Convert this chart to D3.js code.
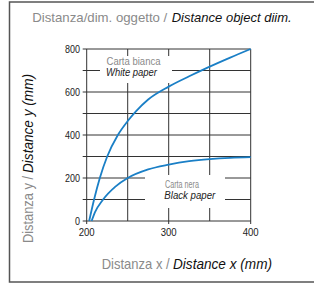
<!DOCTYPE html>
<html>
<head>
<meta charset="utf-8">
<script src="https://cdn.jsdelivr.net/npm/d3@7"></script>
<style>
  body { margin: 0; background: #fff; }
  svg { display: block; }
  text { font-family: "Liberation Sans", Arial, sans-serif; }
</style>
</head>
<body>
<script>
// data
const whitePaperX = [203, 209, 216, 225, 238, 250, 260, 275, 300, 325, 350, 375, 400];
const whitePaperY = [0, 100, 200, 300, 400, 465, 510, 565, 625, 673, 718, 760, 800];
const blackPaperX = [206, 210, 220, 235, 250, 275, 300, 325, 350, 375, 400];
const blackPaperY = [0, 40, 100, 160, 200, 240, 262, 278, 288, 294, 297];
const xTickLabels = [200, 300, 400];
const yTickLabels = [0, 200, 400, 600, 800];
const xGrid = [200, 250, 300, 350, 400];
const yGrid = [0, 100, 200, 300, 400, 500, 600, 700, 800];

const W = 314, H = 283;
const svg = d3.select("body").append("svg")
    .attr("width", W)
    .attr("height", H);

// outer frame
svg.append("rect")
    .attr("x", 9.5).attr("y", 2)
    .attr("width", 320).attr("height", 280)
    .attr("fill", "none")
    .attr("stroke", "#555")
    .attr("stroke-width", 1.5);

let x = d3.scaleLinear().domain([200, 400]).range([86.7, 250.7]);
let y = d3.scaleLinear().domain([0, 800]).range([221, 49]);

const grid = svg.append("g").attr("stroke", "#333").attr("stroke-width", 1);

grid.selectAll(".vgrid")
    .data(xGrid)
    .enter()
    .append("line")
    .attr("x1", d => x(d)).attr("x2", d => x(d))
    .attr("y1", y(800)).attr("y2", d => xTickLabels.includes(d) ? y(0) + 3 : y(0));

grid.selectAll(".hgrid")
    .data(yGrid)
    .enter()
    .append("line")
    .attr("x1", x(200) - 4).attr("x2", x(400))
    .attr("y1", d => y(d)).attr("y2", d => y(d));

// label boxes that cut the grid
svg.append("rect").attr("x", 100).attr("y", 56).attr("width", 72).attr("height", 27).attr("fill", "#fff");
svg.append("rect").attr("x", 145).attr("y", 175).attr("width", 80).attr("height", 33).attr("fill", "#fff");

// curves
const line = d3.line()
    .x(d => x(d[0]))
    .y(d => y(d[1]))
    .curve(d3.curveMonotoneX);

svg.append("path")
    .datum(d3.zip(whitePaperX, whitePaperY))
    .attr("d", line)
    .attr("fill", "none")
    .attr("stroke", "#1a7fc6")
    .attr("stroke-width", 1.8);

svg.append("path")
    .datum(d3.zip(blackPaperX, blackPaperY))
    .attr("d", line)
    .attr("fill", "none")
    .attr("stroke", "#1a7fc6")
    .attr("stroke-width", 1.8);

// condensed look: squeeze text to the measured width
const squeeze = (sel, len) => sel.attr("textLength", len).attr("lengthAdjust", "spacingAndGlyphs");

// tick labels
svg.selectAll(".xlab")
    .data(xTickLabels)
    .enter()
    .append("text")
    .attr("x", d => x(d) - 8)
    .attr("y", 236)
    .attr("font-size", "10.5px")
    .attr("fill", "#222")
    .attr("textLength", 16)
    .attr("lengthAdjust", "spacingAndGlyphs")
    .text(d => d);

svg.selectAll(".ylab")
    .data(yTickLabels)
    .enter()
    .append("text")
    .attr("x", d => 80 - String(d).length * 5)
    .attr("y", d => y(d) + 3.5)
    .attr("font-size", "10.5px")
    .attr("fill", "#222")
    .attr("textLength", d => String(d).length * 5)
    .attr("lengthAdjust", "spacingAndGlyphs")
    .text(d => d);

// series labels
squeeze(svg.append("text").attr("x", 106.5).attr("y", 65).attr("font-size", "10.5px")
    .attr("fill", "#8a8a8a").text("Carta bianca"), 54);
squeeze(svg.append("text").attr("x", 106).attr("y", 75.5).attr("font-size", "10.5px")
    .attr("font-style", "italic").attr("fill", "#222").text("White paper"), 51);

squeeze(svg.append("text").attr("x", 165).attr("y", 188).attr("font-size", "10.5px")
    .attr("fill", "#8a8a8a").text("Carta nera"), 34);
squeeze(svg.append("text").attr("x", 164.3).attr("y", 199).attr("font-size", "10.5px")
    .attr("font-style", "italic").attr("fill", "#222").text("Black paper"), 51);

// titles (Italian part gray, English part dark italic)
squeeze(svg.append("text").attr("x", 32.3).attr("y", 21.5).attr("font-size", "13px")
    .attr("fill", "#8a8a8a").text("Distanza/dim. oggetto /"), 135);
squeeze(svg.append("text").attr("x", 171.7).attr("y", 21.5).attr("font-size", "13px")
    .attr("fill", "#111").attr("font-style", "italic").text("Distance object diim."), 120);

squeeze(svg.append("text").attr("x", 101.7).attr("y", 269).attr("font-size", "15px")
    .attr("fill", "#8a8a8a").text("Distanza x /"), 68);
squeeze(svg.append("text").attr("x", 173).attr("y", 269).attr("font-size", "15px")
    .attr("fill", "#111").attr("font-style", "italic").text("Distance x (mm)"), 99);

squeeze(svg.append("text").attr("transform", "translate(33,243) rotate(-90)").attr("font-size", "15px")
    .attr("fill", "#8a8a8a").text("Distanza y /"), 67);
squeeze(svg.append("text").attr("transform", "translate(33,173) rotate(-90)").attr("font-size", "15px")
    .attr("fill", "#111").attr("font-style", "italic").text("Distance y (mm)"), 99);
</script>
</body>
</html>
